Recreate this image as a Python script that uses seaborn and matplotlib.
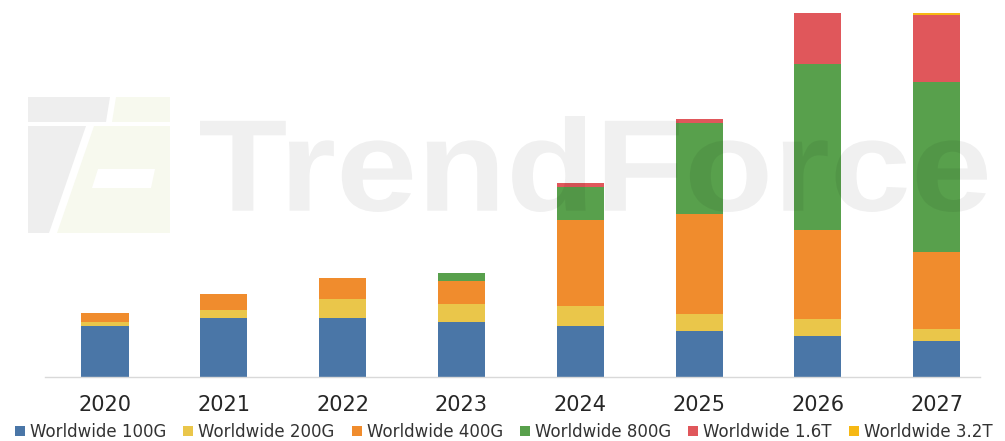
import numpy as np
import matplotlib
matplotlib.use("Agg")
import matplotlib.pyplot as plt
from matplotlib.lines import Line2D
from matplotlib.patches import PathPatch, Polygon
from matplotlib.textpath import TextPath
from matplotlib.font_manager import FontProperties
from matplotlib.transforms import Affine2D
import seaborn as sns

# Transceiver shipments by speed class (relative units)
years = ["2020", "2021", "2022", "2023", "2024", "2025", "2026", "2027"]
ww_100g = [5.10, 5.84, 5.84, 5.50, 5.07, 4.57, 4.10, 3.54]
ww_200g = [0.40, 0.83, 1.93, 1.74, 2.03, 1.70, 1.64, 1.26]
ww_400g = [0.84, 1.60, 2.07, 2.36, 8.57, 9.97, 8.90, 7.67]
ww_800g = [0.00, 0.00, 0.00, 0.80, 3.33, 9.10, 16.63, 17.03]
ww_1_6t = [0.00, 0.00, 0.00, 0.00, 0.34, 0.43, 5.13, 6.67]
ww_3_2t = [0.00, 0.00, 0.00, 0.00, 0.00, 0.00, 0.00, 0.23]

series_names = ["Worldwide 100G", "Worldwide 200G", "Worldwide 400G",
                "Worldwide 800G", "Worldwide 1.6T", "Worldwide 3.2T"]
series_values = [ww_100g, ww_200g, ww_400g, ww_800g, ww_1_6t, ww_3_2t]
series_colors = ["#4A76A7", "#EAC64A", "#F08C2D", "#58A04C", "#E0575B", "#F6B814"]

sns.set_theme(style="white")
plt.rcParams["font.family"] = ["DejaVu Sans"]

W, H = 1005, 441
fig = plt.figure(figsize=(W / 100, H / 100), dpi=100)
fig.patch.set_facecolor("white")

ax_bottom_px, ax_top_px = 376.7, 12.0
ax_left_px, ax_right_px = 45.0, 980.0
ax = fig.add_axes([ax_left_px / W, (H - ax_bottom_px) / H,
                   (ax_right_px - ax_left_px) / W, (ax_bottom_px - ax_top_px) / H])

# Stacked bars: draw cumulative totals from the top layer down
cum = np.cumsum(np.array(series_values), axis=0)
for k in range(len(series_values) - 1, -1, -1):
    sns.barplot(x=years, y=cum[k], color=series_colors[k], saturation=1,
                width=0.396, ax=ax, linewidth=0, zorder=2)

ax.set_ylim(0, (ax_bottom_px - ax_top_px) / 10)
ax.set_xlim(-0.505, 7.365)
ax.set_xlabel("")
ax.set_ylabel("")
ax.set_yticks([])
for side in ["left", "right", "top"]:
    ax.spines[side].set_visible(False)
ax.spines["bottom"].set_color("#D9D9D9")
ax.spines["bottom"].set_linewidth(1.0)
ax.tick_params(axis="x", length=0, pad=13, labelsize=15, labelcolor="#262626")
ax.patch.set_alpha(0)

# Legend with square swatches
handles = [Line2D([], [], linestyle="none", marker="s", markersize=7.5,
                  markerfacecolor=c, markeredgewidth=0) for c in series_colors]
fig.legend(handles, series_names, loc="center", ncol=6,
           bbox_to_anchor=(503.5 / W, (H - 432) / H), frameon=False,
           fontsize=12, handlelength=0.6, handletextpad=0.3,
           columnspacing=1.02, borderaxespad=0, labelcolor="#333333")

# Pixel coordinate transforms (origin bottom-left / top-left)
px_bl = Affine2D().scale(1 / W, 1 / H) + fig.transFigure
px_tl = Affine2D().scale(1 / W, -1 / H).translate(0, 1) + fig.transFigure

# Brand watermark text
tp = TextPath((0, 0), "TrendForce", size=100,
              prop=FontProperties(family="Liberation Sans", weight="bold"))
bb = tp.get_extents()
x0, x1, y_top, y_base = 200, 987, 116, 212
wm_tr = (Affine2D().translate(-bb.x0, -bb.y0)
         .scale((x1 - x0) / bb.width, (y_base - y_top) / bb.height)
         .translate(x0, H - y_base)) + px_bl
fig.add_artist(PathPatch(tp, transform=wm_tr, facecolor="black",
                         alpha=0.058, lw=0, zorder=5))

# Brand watermark logo
gray, tint = "#EEEEEE", "#F7F9EE"
logo_shapes = [
    ([(28, 97), (110, 97), (106, 122), (28, 122)], gray),
    ([(28, 126), (86, 126), (49, 233), (28, 233)], gray),
    ([(116, 97), (170, 97), (170, 122), (112, 122)], tint),
    ([(94, 126), (170, 126), (170, 233), (57, 233)], tint),
    ([(98, 169), (155, 169), (151, 188), (92, 188)], "white"),
]
for pts, col in logo_shapes:
    fig.add_artist(Polygon(pts, closed=True, transform=px_tl,
                           facecolor=col, lw=0, zorder=4))

fig.savefig("out.png", dpi=100)
